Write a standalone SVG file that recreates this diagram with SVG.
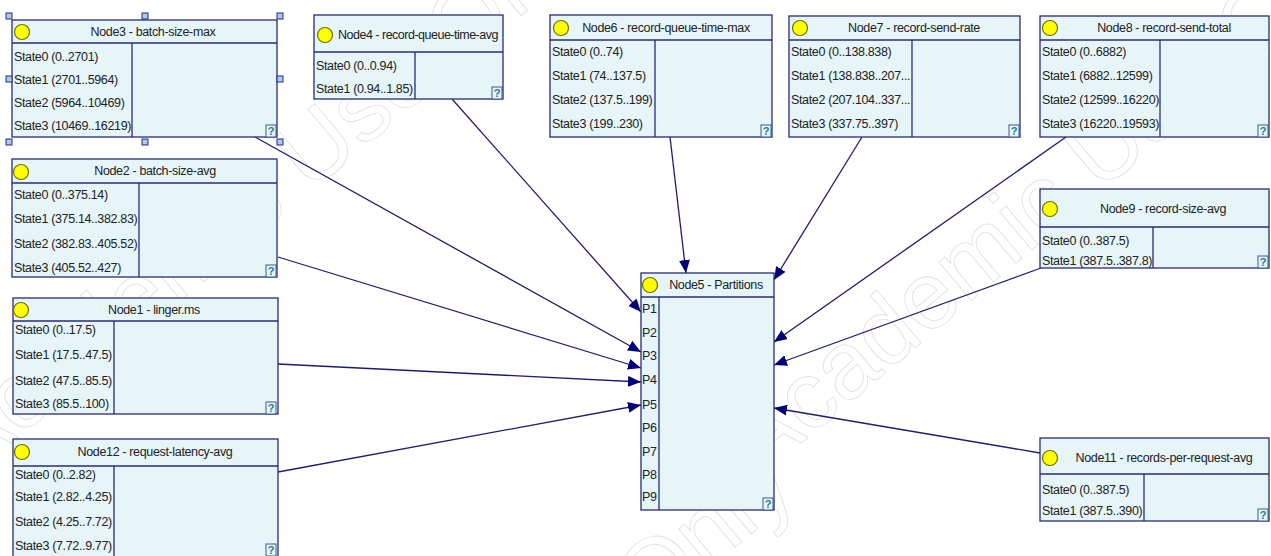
<svg xmlns="http://www.w3.org/2000/svg" width="1271" height="556" viewBox="0 0 1271 556">
<style>
.bx{fill:#E6F5F8;stroke:#2A2A78;stroke-width:1.3}
.ln{stroke:#2A2A78;stroke-width:1.3}
.t{font-family:"Liberation Sans",Arial,sans-serif;font-size:12.5px;letter-spacing:-0.35px;fill:#222}
.ttl{text-anchor:middle}
.dot{fill:#FFFF00;stroke:#707000;stroke-width:1.2}
.qb{fill:#E6F5F8;stroke:#3A5A9A;stroke-width:1}
.q{font-family:"Liberation Sans",Arial,sans-serif;font-size:11px;font-weight:bold;fill:#1E7E8E;text-anchor:middle}
.e{stroke:#1C1C70;stroke-width:1.3;fill:none;marker-end:url(#ah)}
.wm{font-family:"Liberation Sans",Arial,sans-serif;font-size:95px;fill:none;stroke:#E3E3E3;stroke-width:0.9}
.hd{fill:#A8CCEE;stroke:#2A2A78;stroke-width:1}
</style>
<defs>
<marker id="ah" markerUnits="userSpaceOnUse" markerWidth="13" markerHeight="11" refX="13" refY="5.5" orient="auto">
<path d="M0,0 L13,5.5 L0,11 z" fill="#00007A"/>
</marker>
</defs>
<rect width="1271" height="556" fill="#FFFFFF"/>
<g id="watermark">
<text class="wm" transform="translate(-30,478) rotate(-40)">Academic Use Only</text>
<text class="wm" transform="translate(760,478) rotate(-40)">Academic Use Only</text>
<text class="wm" transform="translate(160,1030) rotate(-40)">Academic Use Only</text>
</g>
<g id="connectors">
<line class="e" x1="452" y1="99" x2="641" y2="312"/>
<line class="e" x1="255" y1="137" x2="641" y2="352"/>
<line class="e" x1="278" y1="257" x2="641" y2="368"/>
<line class="e" x1="278" y1="364" x2="641" y2="382"/>
<line class="e" x1="278" y1="472" x2="641" y2="405"/>
<line class="e" x1="670" y1="137" x2="686" y2="273"/>
<line class="e" x1="862" y1="137" x2="774" y2="280"/>
<line class="e" x1="1066" y1="137" x2="774" y2="342"/>
<line class="e" x1="1041" y1="268" x2="774" y2="365"/>
<line class="e" x1="1040" y1="453" x2="774" y2="408"/>
</g>
<g id="node3">
<rect class="bx" x="12" y="20" width="265" height="117"/>
<line class="ln" x1="12" y1="43" x2="277" y2="43"/>
<line class="ln" x1="132" y1="43" x2="132" y2="137"/>
<circle class="dot" cx="22" cy="32" r="7.5"/>
<text class="t ttl" x="153" y="36">Node3 - batch-size-max</text>
<text class="t" x="14" y="61">State0 (0..2701)</text>
<text class="t" x="14" y="84">State1 (2701..5964)</text>
<text class="t" x="14" y="107">State2 (5964..10469)</text>
<text class="t" x="14" y="130">State3 (10469..16219)</text>
<rect class="qb" x="266" y="125" width="10" height="12"/><text class="q" x="271" y="135">?</text>
<rect class="hd" x="6" y="13" width="6" height="6"/><rect class="hd" x="142" y="13" width="6" height="6"/><rect class="hd" x="277" y="13" width="6" height="6"/>
<rect class="hd" x="6" y="76" width="6" height="6"/><rect class="hd" x="277" y="76" width="6" height="6"/>
<rect class="hd" x="6" y="139" width="6" height="6"/><rect class="hd" x="142" y="139" width="6" height="6"/><rect class="hd" x="277" y="139" width="6" height="6"/>
</g>
<g id="node4">
<rect class="bx" x="314" y="15" width="189" height="84"/>
<line class="ln" x1="314" y1="52" x2="503" y2="52"/>
<line class="ln" x1="415" y1="52" x2="415" y2="99"/>
<circle class="dot" cx="325" cy="35" r="7.5"/>
<text class="t ttl" x="418" y="39" style="letter-spacing:-0.5px">Node4 - record-queue-time-avg</text>
<text class="t" x="316" y="70">State0 (0..0.94)</text>
<text class="t" x="316" y="93">State1 (0.94..1.85)</text>
<rect class="qb" x="492" y="87" width="10" height="12"/><text class="q" x="497" y="97">?</text>
</g>
<g id="node6">
<rect class="bx" x="550" y="15" width="222" height="122"/>
<line class="ln" x1="550" y1="40" x2="772" y2="40"/>
<line class="ln" x1="655" y1="40" x2="655" y2="137"/>
<circle class="dot" cx="561" cy="28" r="7.5"/>
<text class="t ttl" x="666" y="32">Node6 - record-queue-time-max</text>
<text class="t" x="552" y="56">State0 (0..74)</text>
<text class="t" x="552" y="80">State1 (74..137.5)</text>
<text class="t" x="552" y="104">State2 (137.5..199)</text>
<text class="t" x="552" y="128">State3 (199..230)</text>
<rect class="qb" x="761" y="125" width="10" height="12"/><text class="q" x="766" y="135">?</text>
</g>
<g id="node7">
<rect class="bx" x="789" y="16" width="231" height="121"/>
<line class="ln" x1="789" y1="40" x2="1020" y2="40"/>
<line class="ln" x1="912" y1="40" x2="912" y2="137"/>
<circle class="dot" cx="800" cy="28" r="7.5"/>
<text class="t ttl" x="914" y="32">Node7 - record-send-rate</text>
<text class="t" x="791" y="56">State0 (0..138.838)</text>
<text class="t" x="791" y="80">State1 (138.838..207...</text>
<text class="t" x="791" y="104">State2 (207.104..337...</text>
<text class="t" x="791" y="128">State3 (337.75..397)</text>
<rect class="qb" x="1009" y="125" width="10" height="12"/><text class="q" x="1014" y="135">?</text>
</g>
<g id="node8">
<rect class="bx" x="1040" y="16" width="229" height="121"/>
<line class="ln" x1="1040" y1="40" x2="1269" y2="40"/>
<line class="ln" x1="1160" y1="40" x2="1160" y2="137"/>
<circle class="dot" cx="1050" cy="28" r="7.5"/>
<text class="t ttl" x="1164" y="32">Node8 - record-send-total</text>
<text class="t" x="1042" y="56">State0 (0..6882)</text>
<text class="t" x="1042" y="80">State1 (6882..12599)</text>
<text class="t" x="1042" y="104">State2 (12599..16220)</text>
<text class="t" x="1042" y="128">State3 (16220..19593)</text>
<rect class="qb" x="1258" y="125" width="10" height="12"/><text class="q" x="1263" y="135">?</text>
</g>
<g id="node2">
<rect class="bx" x="12" y="159" width="265" height="118"/>
<line class="ln" x1="12" y1="183" x2="277" y2="183"/>
<line class="ln" x1="139" y1="183" x2="139" y2="277"/>
<circle class="dot" cx="21" cy="172" r="7.5"/>
<text class="t ttl" x="155" y="175">Node2 - batch-size-avg</text>
<text class="t" x="14" y="199">State0 (0..375.14)</text>
<text class="t" x="14" y="223">State1 (375.14..382.83)</text>
<text class="t" x="14" y="248">State2 (382.83..405.52)</text>
<text class="t" x="14" y="272">State3 (405.52..427)</text>
<rect class="qb" x="266" y="265" width="10" height="12"/><text class="q" x="271" y="275">?</text>
</g>
<g id="node1">
<rect class="bx" x="13" y="298" width="265" height="116"/>
<line class="ln" x1="13" y1="321" x2="278" y2="321"/>
<line class="ln" x1="114" y1="321" x2="114" y2="414"/>
<circle class="dot" cx="21" cy="310" r="7.5"/>
<text class="t ttl" x="154" y="314">Node1 - linger.ms</text>
<text class="t" x="15" y="334">State0 (0..17.5)</text>
<text class="t" x="15" y="359">State1 (17.5..47.5)</text>
<text class="t" x="15" y="385">State2 (47.5..85.5)</text>
<text class="t" x="15" y="408">State3 (85.5..100)</text>
<rect class="qb" x="266" y="402" width="10" height="12"/><text class="q" x="271" y="412">?</text>
</g>
<g id="node12">
<rect class="bx" x="13" y="439" width="265" height="120"/>
<line class="ln" x1="13" y1="466" x2="278" y2="466"/>
<line class="ln" x1="114" y1="466" x2="114" y2="559"/>
<circle class="dot" cx="22" cy="452" r="7.5"/>
<text class="t ttl" x="155" y="456">Node12 - request-latency-avg</text>
<text class="t" x="15" y="479">State0 (0..2.82)</text>
<text class="t" x="15" y="501">State1 (2.82..4.25)</text>
<text class="t" x="15" y="526">State2 (4.25..7.72)</text>
<text class="t" x="15" y="550">State3 (7.72..9.77)</text>
<rect class="qb" x="266" y="544" width="10" height="12"/><text class="q" x="271" y="554">?</text>
</g>
<g id="node5">
<rect class="bx" x="641" y="273" width="133" height="237"/>
<line class="ln" x1="641" y1="297" x2="774" y2="297"/>
<line class="ln" x1="659" y1="297" x2="659" y2="510"/>
<circle class="dot" cx="650" cy="285" r="7.5"/>
<text class="t ttl" x="716" y="289">Node5 - Partitions</text>
<text class="t" x="642" y="313">P1</text>
<text class="t" x="642" y="337">P2</text>
<text class="t" x="642" y="360">P3</text>
<text class="t" x="642" y="384">P4</text>
<text class="t" x="642" y="409">P5</text>
<text class="t" x="642" y="432">P6</text>
<text class="t" x="642" y="456">P7</text>
<text class="t" x="642" y="479">P8</text>
<text class="t" x="642" y="501">P9</text>
<rect class="qb" x="763" y="498" width="10" height="12"/><text class="q" x="768" y="508">?</text>
</g>
<g id="node9">
<rect class="bx" x="1040" y="189" width="229" height="79"/>
<line class="ln" x1="1040" y1="227" x2="1269" y2="227"/>
<line class="ln" x1="1153" y1="227" x2="1153" y2="268"/>
<circle class="dot" cx="1050" cy="209" r="7.5"/>
<text class="t ttl" x="1163" y="213">Node9 - record-size-avg</text>
<text class="t" x="1042" y="245">State0 (0..387.5)</text>
<text class="t" x="1042" y="265">State1 (387.5..387.8)</text>
<rect class="qb" x="1258" y="256" width="10" height="12"/><text class="q" x="1263" y="266">?</text>
</g>
<g id="node11">
<rect class="bx" x="1040" y="438" width="229" height="83"/>
<line class="ln" x1="1040" y1="474" x2="1269" y2="474"/>
<line class="ln" x1="1144" y1="474" x2="1144" y2="521"/>
<circle class="dot" cx="1050" cy="458" r="7.5"/>
<text class="t ttl" x="1164" y="462">Node11 - records-per-request-avg</text>
<text class="t" x="1042" y="494">State0 (0..387.5)</text>
<text class="t" x="1042" y="515">State1 (387.5..390)</text>
<rect class="qb" x="1258" y="509" width="10" height="12"/><text class="q" x="1263" y="519">?</text>
</g>
</svg>
